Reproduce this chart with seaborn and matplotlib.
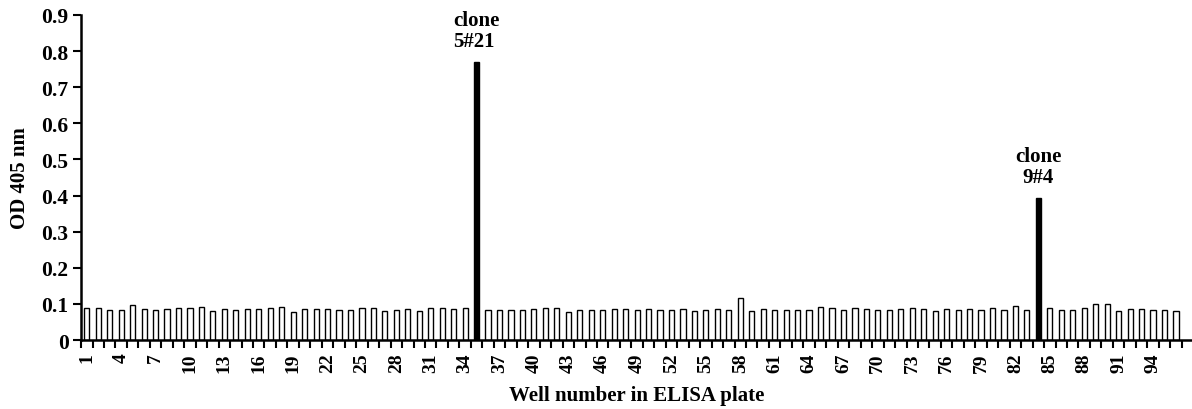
import numpy as np
import pandas as pd
import matplotlib
matplotlib.use('Agg')
import matplotlib.pyplot as plt
import seaborn as sns

# OD 405 nm per well (96-well ELISA plate)
wells = list(range(1, 97))
od_values = [
    0.090, 0.090, 0.084, 0.084, 0.096, 0.086, 0.084, 0.086, 0.089, 0.089,
    0.092, 0.081, 0.085, 0.084, 0.085, 0.085, 0.089, 0.092, 0.079, 0.085,
    0.087, 0.085, 0.084, 0.084, 0.090, 0.089, 0.081, 0.084, 0.085, 0.081,
    0.089, 0.090, 0.086, 0.088, 0.770, 0.084, 0.084, 0.084, 0.084, 0.086,
    0.088, 0.088, 0.079, 0.084, 0.084, 0.082, 0.086, 0.087, 0.084, 0.086,
    0.083, 0.084, 0.086, 0.081, 0.083, 0.086, 0.084, 0.116, 0.080, 0.086,
    0.084, 0.083, 0.084, 0.084, 0.093, 0.089, 0.083, 0.088, 0.086, 0.083,
    0.083, 0.086, 0.090, 0.086, 0.080, 0.087, 0.084, 0.086, 0.084, 0.090,
    0.084, 0.094, 0.083, 0.393, 0.088, 0.084, 0.083, 0.088, 0.100, 0.099,
    0.081, 0.086, 0.086, 0.083, 0.083, 0.080,
]
positive_wells = [35, 84]
positive_labels = ['clone\n5#21', 'clone\n9#4']
label_align = ['left', 'center']
tick_wells = list(range(1, 97, 3))

df = pd.DataFrame({'well': wells, 'od': od_values})
df['kind'] = np.where(df['well'].isin(positive_wells), 'clone', 'normal')

sns.set_style('ticks')
plt.rcParams['font.family'] = ['Liberation Serif', 'DejaVu Serif']
plt.rcParams['font.weight'] = 'bold'
plt.rcParams['text.color'] = 'black'
plt.rcParams['axes.labelcolor'] = 'black'
plt.rcParams['xtick.color'] = 'black'
plt.rcParams['ytick.color'] = 'black'

fig = plt.figure(figsize=(11.92, 4.10), dpi=100)
ax = fig.add_axes([0.068, 0.168, 0.932, 0.793])

sns.barplot(data=df, x='well', y='od', hue='kind',
            palette={'normal': 'white', 'clone': 'black'},
            dodge=False, edgecolor='black', linewidth=1.0,
            width=0.45, legend=False, ax=ax)

ax.set_xlim(-0.5, 96.4)
ax.set_ylim(0, 0.9)
ax.set_yticks(np.arange(0, 0.91, 0.1))
ax.set_yticklabels(['0'] + [f'{v:.1f}' for v in np.arange(0.1, 0.91, 0.1)])

ax.set_xticks([w - 1 for w in tick_wells])
ax.set_xticklabels([str(w) for w in tick_wells], rotation=90)
ax.set_xticks(np.arange(-0.5, 96.5, 1.0), minor=True)
ax.tick_params(axis='x', which='major', length=0, pad=9, labelsize=14)
ax.tick_params(axis='x', which='minor', length=6, width=1.5, color='black')
ax.tick_params(axis='y', length=6, width=1.5, color='black', pad=3, labelsize=15.5)
for lbl in ax.get_xticklabels() + ax.get_yticklabels():
    lbl.set_fontweight('bold')

for s in ['top', 'right']:
    ax.spines[s].set_visible(False)
for s in ['left', 'bottom']:
    ax.spines[s].set_linewidth(1.8)
    ax.spines[s].set_color('black')

ax.set_xlabel('Well number in ELISA plate', fontsize=15, fontweight='bold', labelpad=9)
ax.set_ylabel('OD 405 nm', fontsize=15, fontweight='bold', labelpad=8)

for w, txt, al in zip(positive_wells, positive_labels, label_align):
    ax.annotate(txt, xy=(w - 1, od_values[w - 1]), xytext=(0, 8),
                textcoords='offset points', ha='center', va='bottom',
                multialignment=al, fontsize=15, fontweight='bold',
                linespacing=1.05)

fig.savefig('out.png', dpi=100)
